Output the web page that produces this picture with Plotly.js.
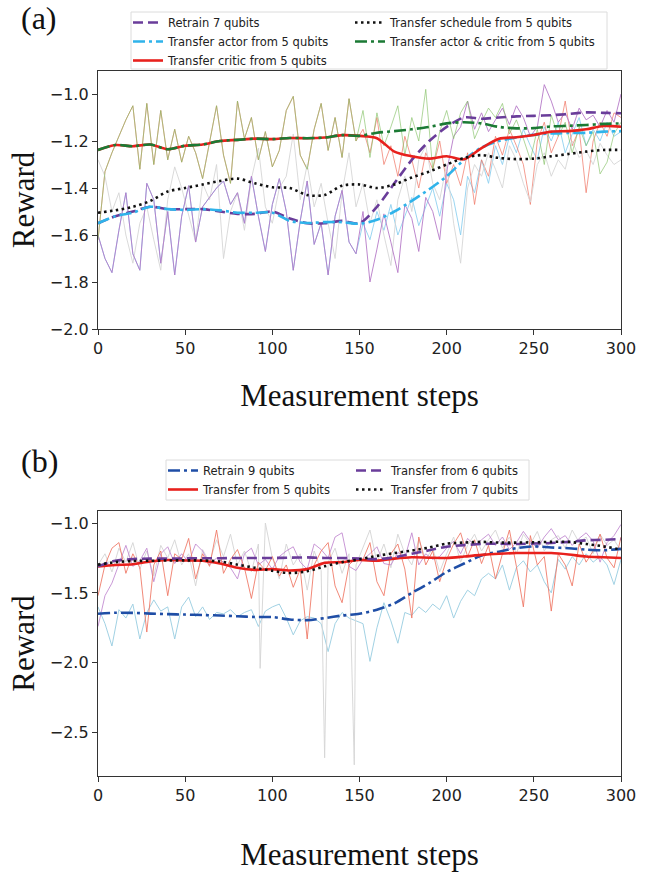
<!DOCTYPE html>
<html>
<head>
<meta charset="utf-8">
<script src="https://cdn.plot.ly/plotly-3.0.1.min.js"></script>
<style>html,body{margin:0;padding:0;background:#fff;}#chart{width:660px;height:873px;}</style>
</head>
<body>
<div id="chart"></div>
<script>
// ---------- shared step grids ----------
const stepsRaw = [0,4,8,12,16,20,24,28,32,36,40,44,48,52,56,60,64,68,72,76,80,84,88,92,96,100,104,108,112,116,120,124,128,132,136,140,144,148,152,156,160,164,168,172,176,180,184,188,192,196,200,204,208,212,216,220,224,228,232,236,240,244,248,252,256,260,264,268,272,276,280,284,288,292,296,300];
const stepsSmooth = [0,10,20,30,40,50,60,70,80,90,100,110,120,130,140,150,160,170,180,190,200,210,220,230,240,250,260,270,280,290,300];
const xTicks = [0,50,100,150,200,250,300];

// ---------- panel (a) labels ----------
const namesA = ["Retrain 7 qubits","Transfer schedule from 5 qubits","Transfer actor from 5 qubits","Transfer actor & critic from 5 qubits","Transfer critic from 5 qubits"];
const yTicksA = [-2.0,-1.8,-1.6,-1.4,-1.2,-1.0];

// ---------- panel (a) raw series ----------
const retrain7Raw = [-1.60,-1.70,-1.76,-1.58,-1.42,-1.68,-1.75,-1.38,-1.45,-1.72,
  -1.50,-1.77,-1.52,-1.39,-1.63,-1.48,-1.44,-1.40,-1.37,-1.47,
  -1.42,-1.55,-1.35,-1.52,-1.67,-1.47,-1.36,-1.50,-1.75,-1.54,
  -1.37,-1.64,-1.55,-1.77,-1.52,-1.41,-1.63,-1.68,-1.50,-1.80,
  -1.66,-1.51,-1.63,-1.76,-1.47,-1.53,-1.67,-1.44,-1.50,-1.62,
  -1.33,-1.18,-1.14,-1.03,-1.15,-1.08,-1.16,-1.11,-1.06,-1.13,
  -1.05,-1.10,-1.18,-1.14,-0.96,-1.03,-1.12,-1.08,-1.15,-1.06,
  -1.11,-1.09,-1.14,-1.07,-1.12,-1.00];
// actor transfer: identical to retrain up to step 148, then:
const actorRawLate = [-1.55,-1.62,-1.50,-1.58,-1.47,-1.60,-1.52,-1.44,-1.56,-1.48,
  -1.40,-1.52,-1.38,-1.45,-1.60,-1.35,-1.42,-1.28,-1.38,-1.22,
  -1.30,-1.18,-1.25,-1.15,-1.22,-1.28,-1.14,-1.20,-1.12,-1.25,
  -1.17,-1.10,-1.22,-1.15,-1.20,-1.12,-1.18,-1.16];
const scheduleRaw = [-1.28,-1.35,-1.50,-1.42,-1.60,-1.72,-1.55,-1.48,-1.62,-1.75,
  -1.45,-1.31,-1.40,-1.52,-1.63,-1.38,-1.45,-1.30,-1.70,-1.50,
  -1.42,-1.58,-1.36,-1.23,-1.48,-1.55,-1.40,-1.35,-1.17,-1.45,
  -1.30,-1.48,-1.38,-1.55,-1.70,-1.42,-1.25,-1.48,-1.38,-1.55,
  -1.45,-1.60,-1.73,-1.45,-1.35,-1.50,-1.28,-1.22,-1.38,-1.45,
  -1.30,-1.55,-1.72,-1.40,-1.30,-1.35,-1.25,-1.32,-1.40,-1.22,
  -1.28,-1.38,-1.46,-1.30,-1.25,-1.35,-1.28,-1.32,-1.20,-1.27,
  -1.24,-1.30,-1.21,-1.26,-1.30,-1.28];
const actorCriticRaw = [-1.62,-1.33,-1.25,-1.18,-1.11,-1.05,-1.32,-1.04,-1.30,-1.07,
  -1.28,-1.15,-1.29,-1.18,-1.25,-1.36,-1.20,-1.05,-1.26,-1.38,
  -1.03,-1.19,-1.10,-1.28,-1.16,-1.31,-1.24,-1.07,-1.01,-1.26,
  -1.32,-1.15,-1.04,-1.24,-1.10,-1.27,-1.02,-1.20,-1.07,-1.27,
  -1.08,-1.22,-1.14,-1.05,-1.26,-1.10,-1.20,-0.98,-1.32,-1.16,
  -1.07,-1.19,-1.08,-1.03,-1.19,-1.12,-1.06,-1.10,-1.04,-1.17,
  -1.11,-1.19,-1.28,-1.15,-1.30,-1.09,-1.18,-1.12,-1.25,-1.14,
  -1.22,-1.16,-1.34,-1.29,-1.17,-1.12];
// critic transfer: identical to actor & critic up to step 148, then:
const criticRawLate = [-1.15,-1.25,-1.10,-1.30,-1.22,-1.35,-1.18,-1.28,-1.40,-1.25,
  -1.32,-1.20,-1.38,-1.30,-1.39,-1.25,-1.47,-1.28,-1.35,-1.18,
  -1.26,-1.15,-1.22,-1.30,-1.47,-1.20,-1.12,-1.25,-1.18,-1.03,
  -1.22,-1.15,-1.42,-1.20,-1.12,-1.18,-1.08,-1.10];

// ---------- panel (a) smoothed series ----------
const retrain7Smooth = [-1.55,-1.52,-1.50,-1.48,-1.49,-1.49,-1.49,-1.50,-1.51,-1.51,-1.50,-1.53,-1.55,-1.55,-1.54,-1.55,-1.48,-1.38,-1.28,-1.20,-1.14,-1.10,-1.105,-1.10,-1.095,-1.093,-1.09,-1.085,-1.078,-1.08,-1.082];
const actorSmooth = [-1.55,-1.52,-1.505,-1.48,-1.49,-1.493,-1.49,-1.495,-1.505,-1.505,-1.505,-1.54,-1.549,-1.545,-1.545,-1.552,-1.535,-1.50,-1.455,-1.405,-1.35,-1.28,-1.228,-1.20,-1.185,-1.174,-1.168,-1.166,-1.165,-1.16,-1.158];
const criticSmooth = [-1.238,-1.217,-1.222,-1.215,-1.235,-1.22,-1.215,-1.20,-1.195,-1.19,-1.192,-1.187,-1.188,-1.185,-1.175,-1.178,-1.188,-1.245,-1.265,-1.275,-1.265,-1.278,-1.23,-1.19,-1.184,-1.174,-1.16,-1.158,-1.15,-1.136,-1.139];
// actor & critic: identical to critic up to step 150, then:
const actorCriticSmoothLate = [-1.165,-1.158,-1.15,-1.14,-1.125,-1.12,-1.125,-1.14,-1.146,-1.145,-1.138,-1.135,-1.132,-1.127,-1.125];
const scheduleSmooth = [-1.505,-1.495,-1.48,-1.455,-1.415,-1.40,-1.385,-1.37,-1.36,-1.38,-1.397,-1.40,-1.43,-1.43,-1.39,-1.385,-1.40,-1.385,-1.355,-1.33,-1.30,-1.272,-1.26,-1.272,-1.277,-1.275,-1.265,-1.255,-1.245,-1.238,-1.238];

// ---------- panel (b) labels ----------
const namesB = ["Retrain 9 qubits","Transfer from 6 qubits","Transfer from 5 qubits","Transfer from 7 qubits"];
const yTicksB = [-2.5,-2.0,-1.5,-1.0];

// ---------- panel (b) raw series ----------
const retrain9Raw = [-1.60,-1.72,-1.88,-1.62,-1.68,-1.58,-1.83,-1.64,-1.55,-1.63,
  -1.60,-1.83,-1.60,-1.53,-1.67,-1.60,-1.69,-1.64,-1.65,-1.62,
  -1.67,-1.64,-1.62,-1.74,-1.63,-1.60,-1.58,-1.68,-1.80,-1.70,
  -1.67,-1.68,-1.72,-1.92,-1.72,-1.64,-1.68,-1.70,-1.72,-1.99,
  -1.75,-1.57,-1.70,-1.86,-1.64,-1.66,-1.60,-1.64,-1.58,-1.62,
  -1.52,-1.68,-1.56,-1.48,-1.52,-1.40,-1.36,-1.40,-1.30,-1.48,
  -1.32,-1.27,-1.35,-1.30,-1.42,-1.50,-1.26,-1.33,-1.24,-1.30,
  -1.22,-1.28,-1.24,-1.30,-1.44,-1.26];
const from5Raw = [-1.52,-1.30,-1.18,-1.14,-1.36,-1.22,-1.32,-1.78,-1.30,-1.20,
  -1.52,-1.22,-1.26,-1.11,-1.40,-1.22,-1.31,-1.05,-1.36,-1.26,
  -1.19,-1.32,-1.54,-1.28,-1.34,-1.24,-1.38,-1.30,-1.46,-1.33,
  -1.83,-1.30,-1.20,-1.14,-1.45,-1.57,-1.30,-1.25,-1.26,-1.14,
  -1.42,-1.52,-1.22,-1.15,-1.33,-1.68,-1.10,-1.30,-1.20,-1.42,
  -1.26,-1.15,-1.07,-1.24,-1.12,-1.29,-1.16,-1.40,-1.22,-1.05,
  -1.31,-1.60,-1.09,-1.30,-1.24,-1.63,-1.22,-1.30,-1.45,-1.15,
  -1.28,-1.20,-1.08,-1.25,-1.32,-1.10];
const from6Raw = [-1.74,-1.52,-1.43,-1.30,-1.16,-1.31,-1.27,-1.18,-1.42,-1.22,
  -1.17,-1.29,-1.22,-1.28,-1.15,-1.20,-1.30,-1.25,-1.28,-1.32,
  -1.40,-1.22,-1.18,-1.30,-1.26,-1.33,-1.24,-1.20,-1.17,-1.28,
  -1.33,-1.15,-1.19,-1.25,-1.10,-1.07,-1.31,-1.34,-1.26,-1.22,
  -1.17,-1.29,-1.30,-1.21,-1.25,-1.07,-1.30,-1.22,-1.26,-1.24,
  -1.18,-1.13,-1.22,-1.11,-1.16,-1.12,-1.08,-1.16,-1.10,-1.19,
  -1.14,-1.06,-1.13,-1.18,-1.10,-1.04,-1.12,-1.09,-1.16,-1.11,
  -1.07,-1.13,-1.28,-1.14,-1.09,-1.01];
const from7Raw = [-1.30,-1.22,-1.35,-1.18,-1.28,-1.14,-1.33,-1.20,-1.38,-1.16,
  -1.25,-1.12,-1.30,-1.22,-1.45,-1.19,-1.28,-1.12,-1.24,-1.08,
  -1.30,-1.20,-1.35,-1.15,-1.00,-1.25,-1.40,-1.15,-1.30,-1.22,
  -1.48,-1.20,-1.34,-1.28,-1.18,-1.36,-1.22,-1.30,-1.18,-1.05,
  -1.28,-1.15,-1.32,-1.08,-1.22,-1.30,-1.12,-1.26,-1.18,-1.35,
  -1.22,-1.10,-1.28,-1.16,-1.08,-1.20,-1.12,-1.05,-1.18,-1.10,
  -1.22,-1.08,-1.15,-1.06,-1.20,-1.12,-1.09,-1.18,-1.05,-1.14,
  -1.10,-1.22,-1.08,-1.16,-1.12,-1.20];
// isolated deep drops of the 7-qubit transfer run
const from7DropSteps = [93,130,147];
const from7DropVals = [-2.04,-2.68,-2.73];

// ---------- panel (b) smoothed series ----------
const retrain9Smooth = [-1.649,-1.642,-1.643,-1.648,-1.652,-1.655,-1.658,-1.662,-1.667,-1.672,-1.673,-1.69,-1.695,-1.68,-1.662,-1.649,-1.62,-1.575,-1.50,-1.43,-1.35,-1.29,-1.232,-1.205,-1.18,-1.167,-1.175,-1.18,-1.19,-1.195,-1.185];
const from5Smooth = [-1.31,-1.30,-1.295,-1.275,-1.265,-1.268,-1.27,-1.29,-1.32,-1.335,-1.33,-1.34,-1.33,-1.285,-1.28,-1.265,-1.27,-1.255,-1.245,-1.248,-1.25,-1.24,-1.228,-1.22,-1.215,-1.215,-1.215,-1.225,-1.24,-1.245,-1.25];
const from6Smooth = [-1.31,-1.27,-1.258,-1.255,-1.255,-1.253,-1.252,-1.252,-1.25,-1.25,-1.25,-1.248,-1.246,-1.25,-1.25,-1.255,-1.258,-1.245,-1.22,-1.195,-1.17,-1.158,-1.15,-1.148,-1.15,-1.147,-1.143,-1.135,-1.124,-1.12,-1.115];
const from7Smooth = [-1.298,-1.28,-1.272,-1.27,-1.268,-1.267,-1.268,-1.275,-1.298,-1.32,-1.342,-1.358,-1.345,-1.31,-1.28,-1.26,-1.235,-1.215,-1.197,-1.175,-1.148,-1.14,-1.135,-1.14,-1.14,-1.138,-1.135,-1.135,-1.15,-1.167,-1.19];

// ---------- derived series ----------
const nEarly = stepsRaw.indexOf(148) + 1;
const actorRaw = retrain7Raw.slice(0, nEarly).concat(actorRawLate);
const criticRaw = actorCriticRaw.slice(0, nEarly).concat(criticRawLate);
const actorCriticSmooth = criticSmooth.slice(0, stepsSmooth.indexOf(150) + 1).concat(actorCriticSmoothLate);
const from7Pts = stepsRaw.map((s, i) => [s, from7Raw[i]])
  .concat(from7DropSteps.map((s, i) => [s, from7DropVals[i]]))
  .sort((a, b) => a[0] - b[0]);

// ---------- styles ----------
const C = {
  purple: '#6a3d9a', purpleRaw: '#b67ac8',
  sky: '#2fb3ea', skyRaw: '#8fd0ef',
  red: '#e8211d', redRaw: '#ef7462',
  black: '#111111', grayRaw: '#d6d6d6',
  green: '#1b7a34', greenRaw: '#86c267',
  blue: '#1f4ea6', blueRaw: '#9ccfe2', purpleRawB: '#bf86cf'
};
const DASH = '10px,5px', DASHDOT = '12px,4px,3px,4px', DOT = '2.5px,3.5px';

function raw(x, y, color, ax, op) {
  return {x: x, y: y, type: 'scatter', mode: 'lines', xaxis: ax[0], yaxis: ax[1],
    line: {color: color, width: 1}, opacity: op, showlegend: false, hoverinfo: 'skip'};
}
function smooth(y, name, color, dash, ax, legend) {
  return {x: stepsSmooth, y: y, name: name, type: 'scatter', mode: 'lines', xaxis: ax[0], yaxis: ax[1],
    line: {color: color, width: 2.6, dash: dash, shape: 'spline', smoothing: 0.8},
    legend: legend};
}
const A = ['x', 'y'], B = ['x2', 'y2'];

const traces = [
  raw(stepsRaw, actorRaw, C.skyRaw, A, 0.9),
  raw(stepsRaw, criticRaw, C.redRaw, A, 0.7),
  raw(stepsRaw, scheduleRaw, C.grayRaw, A, 0.9),
  raw(stepsRaw, retrain7Raw, C.purpleRaw, A, 0.9),
  raw(stepsRaw, actorCriticRaw, C.greenRaw, A, 0.65),
  smooth(retrain7Smooth, namesA[0], C.purple, DASH, A, 'legend'),
  smooth(actorSmooth, namesA[2], C.sky, DASHDOT, A, 'legend'),
  smooth(criticSmooth, namesA[4], C.red, 'solid', A, 'legend'),
  smooth(scheduleSmooth, namesA[1], C.black, DOT, A, 'legend2'),
  smooth(actorCriticSmooth, namesA[3], C.green, DASHDOT, A, 'legend2'),

  raw(stepsRaw, retrain9Raw, C.blueRaw, B, 0.95),
  raw(from7Pts.map(p => p[0]), from7Pts.map(p => p[1]), C.grayRaw, B, 0.95),
  raw(stepsRaw, from6Raw, C.purpleRawB, B, 0.85),
  raw(stepsRaw, from5Raw, C.redRaw, B, 0.85),
  smooth(retrain9Smooth, namesB[0], C.blue, DASHDOT, B, 'legend3'),
  smooth(from5Smooth, namesB[2], C.red, 'solid', B, 'legend3'),
  smooth(from6Smooth, namesB[1], C.purple, DASH, B, 'legend4'),
  smooth(from7Smooth, namesB[3], C.black, DOT, B, 'legend4')
];

// ---------- layout (pixel geometry of the 660x873 page) ----------
const W = 660, H = 873, L = 98, R = 39;
const pw = W - L - R;
const py = p => 1 - p / H;          // page pixel row -> paper y
const px = p => (p - L) / pw;       // page pixel column -> paper x
const serif = 'Liberation Serif, Times New Roman, serif';
const tickFont = {family: 'DejaVu Sans, sans-serif', size: 16, color: '#222'};
const legFont = {family: 'DejaVu Sans, sans-serif', size: 11.5, color: '#222'};

function xa(anchor, standoff) {
  return {anchor: anchor, domain: [0, 1], range: [0, 300], tickvals: xTicks,
    ticks: 'outside', ticklen: 5, tickwidth: 1, tickcolor: '#333', tickfont: tickFont,
    showline: true, mirror: true, linecolor: '#333', linewidth: 1.2, showgrid: false, zeroline: false,
    title: {text: 'Measurement steps', font: {family: serif, size: 31, color: '#111'}, standoff: standoff}};
}
function ya(anchor, domain, range, ticks) {
  return {anchor: anchor, domain: domain, range: range, tickvals: ticks, tickformat: '.1f',
    ticks: 'outside', ticklen: 5, tickwidth: 1, tickcolor: '#333', tickfont: tickFont,
    showline: true, mirror: true, linecolor: '#333', linewidth: 1.2, showgrid: false, zeroline: false,
    title: {text: 'Reward', font: {family: serif, size: 31, color: '#111'}, standoff: 5}};
}
function leg(textLeft, top) {
  return {orientation: 'v', xanchor: 'left', yanchor: 'top', font: legFont,
    bgcolor: 'rgba(0,0,0,0)', borderwidth: 0, traceorder: 'normal',
    x: px(textLeft - 41), y: py(top)};
}

const layout = {
  width: W, height: H, margin: {l: L, r: R, t: 0, b: 0}, paper_bgcolor: '#fff', plot_bgcolor: '#fff',
  showlegend: true,
  xaxis: xa('y', 26),
  yaxis: ya('x', [py(329), py(71)], [-2.0, -0.902], yTicksA),
  xaxis2: xa('y2', 38),
  yaxis2: ya('x2', [py(776), py(511)], [-2.81, -0.914], yTicksB),
  legend: leg(169, 8),
  legend2: leg(391, 8),
  legend3: leg(204, 456),
  legend4: leg(392, 456),
  shapes: [
    {type: 'rect', xref: 'paper', yref: 'paper', x0: px(131), x1: px(607), y0: py(69), y1: py(12),
      line: {color: '#dcdcdc', width: 1}, fillcolor: 'rgba(255,255,255,0.9)', layer: 'below'},
    {type: 'rect', xref: 'paper', yref: 'paper', x0: px(166), x1: px(529), y0: py(500), y1: py(460),
      line: {color: '#dcdcdc', width: 1}, fillcolor: 'rgba(255,255,255,0.9)', layer: 'below'}
  ],
  annotations: [
    {text: '(a)', xref: 'paper', yref: 'paper', x: px(19), y: py(18), xanchor: 'left', yanchor: 'middle',
      showarrow: false, font: {family: serif, size: 32, color: '#111'}},
    {text: '(b)', xref: 'paper', yref: 'paper', x: px(19), y: py(461), xanchor: 'left', yanchor: 'middle',
      showarrow: false, font: {family: serif, size: 32, color: '#111'}}
  ]
};

Plotly.newPlot('chart', traces, layout, {staticPlot: true, displayModeBar: false});
</script>
</body>
</html>
